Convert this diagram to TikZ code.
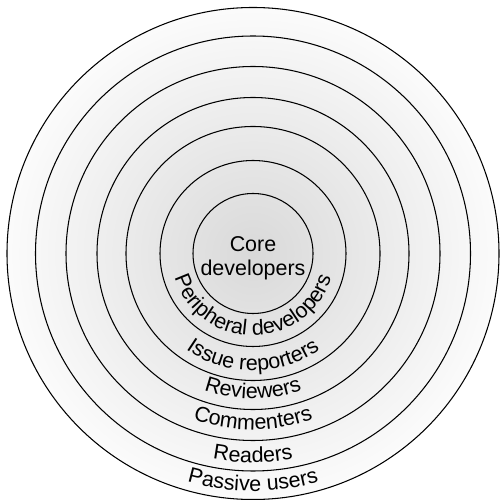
\documentclass[tikz,border=0pt]{standalone}
\usepackage{fontspec}
\setmainfont{Liberation Sans}
\usetikzlibrary{decorations.text}

\definecolor{shadeinner}{gray}{0.85}
\definecolor{shadeouter}{gray}{0.985}
\pgfdeclareradialshading{ringshade}{\pgfpoint{0bp}{0bp}}{color(0bp)=(shadeinner); color(25bp)=(shadeouter); color(50bp)=(shadeouter)}
\newcommand{\labelfont}{\fontsize{12.2}{13.5}\selectfont}

\begin{document}
\begin{tikzpicture}[ring/.style={circle, draw, line width=0.6pt, inner sep=0pt},
  arc label/.style={decorate, decoration={text along path, text={|\labelfont|#1}, text align=center}}]
  \useasboundingbox (-5.06,-4.93) rectangle (4.94,5.07);
  \node[ring, shade, shading=ringshade, minimum size=9.84cm] (passive) at (0,0) {};
  \node[ring, minimum size=8.7cm] (readers) at (0,0) {};
  \node[ring, minimum size=7.48cm] (commenters) at (0,0) {};
  \node[ring, minimum size=6.24cm] (reviewers) at (0,0) {};
  \node[ring, minimum size=5.08cm] (reporters) at (0,0) {};
  \node[ring, minimum size=3.72cm] (peripheral) at (0,0) {};
  \node[ring, minimum size=2.4cm] (core) at (0,0) {};
  \node[align=center, font=\labelfont] (core label) at (0,-0.1) {Core\\developers};
  \path[arc label={Peripheral developers}] (180:1.64) arc (180:360:1.64);
  \path[arc label={Issue reporters}] (180:2.34) arc (180:360:2.34);
  \path[arc label={Reviewers}] (180:2.9) arc (180:360:2.9);
  \path[arc label={Commenters}] (180:3.52) arc (180:360:3.52);
  \path[arc label={Readers}] (180:4.18) arc (180:360:4.18);
  \path[arc label={Passive users}] (180:4.75) arc (180:360:4.75);
\end{tikzpicture}
\end{document}
